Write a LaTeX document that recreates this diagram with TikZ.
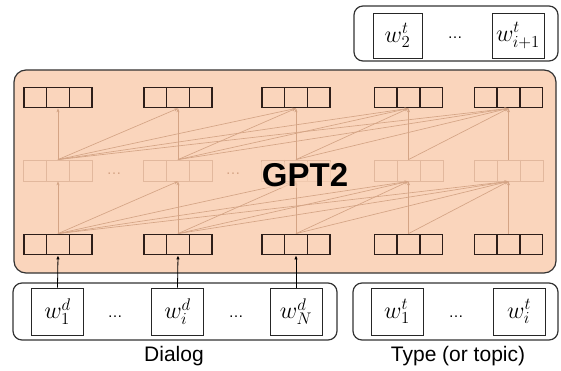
\RequirePackage{fix-cm}
\documentclass[tikz,border=0pt]{standalone}
\usepackage[no-math]{fontspec}
\setmainfont{Liberation Sans}
\usetikzlibrary{arrows.meta}
\definecolor{peach}{RGB}{250,213,188}
\definecolor{vecdark}{RGB}{45,30,25}
\definecolor{faint}{RGB}{212,164,133}
\definecolor{faintbox}{RGB}{226,184,157}
\newcommand{\mw}[1]{{\fontsize{24}{24}\selectfont$#1$}}
\tikzset{
  vec/.style={draw=vecdark, line width=1.8pt, minimum width=68pt, minimum height=20pt, inner sep=0pt,
    path picture={
      \draw[line width=1.8pt, draw=vecdark] ([xshift=-11.5pt]path picture bounding box.north) -- ([xshift=-11.5pt]path picture bounding box.south);
      \draw[line width=1.8pt, draw=vecdark] ([xshift=11.5pt]path picture bounding box.north) -- ([xshift=11.5pt]path picture bounding box.south);
    }},
  midvec/.style={draw=faintbox, line width=0.8pt, minimum width=69pt, minimum height=21pt, inner sep=0pt,
    path picture={
      \draw[line width=0.8pt, draw=faintbox] ([xshift=-11.5pt]path picture bounding box.north) -- ([xshift=-11.5pt]path picture bounding box.south);
      \draw[line width=0.8pt, draw=faintbox] ([xshift=11.5pt]path picture bounding box.north) -- ([xshift=11.5pt]path picture bounding box.south);
    }},
  conn/.style={draw=faint, line width=0.65pt, -{Stealth[length=4pt,width=3pt]}},
  inarrow/.style={draw=black, line width=0.8pt, -{Latex[length=4pt,width=3.5pt]}},
  ibox/.style={draw=black!80, line width=1.2pt, rounded corners=9pt, fill=white, inner sep=0pt},
  sq/.style={draw=black!85, line width=0.9pt, minimum height=47pt, inner sep=0pt, fill=white},
  dotsnode/.style={font=\fontsize{15}{15}\selectfont, anchor=base, inner sep=0pt},
  lbl/.style={font=\fontsize{21}{21}\selectfont, inner sep=0pt}
}
\begin{document}
\begin{tikzpicture}[x=1pt,y=-1pt]
\useasboundingbox (0,0) rectangle (561,371);
% GPT2 block
\node[draw=black!80, line width=1.2pt, rounded corners=12pt, fill=peach,
      minimum width=542pt, minimum height=203pt, inner sep=0pt] (gptbox) at (285,171.5) {};
% vectors
\foreach \i/\x in {1/58,2/178,3/296,4/408.5,5/508.5}{
  \node[vec] (t\i) at (\x,97.5) {};
  \node[midvec] (m\i) at (\x,170.5) {};
  \node[vec] (b\i) at (\x,244.5) {};
}
\node[dotsnode, text=faint] (md1) at (114,175) {\dots};
\node[dotsnode, text=faint] (md2) at (233,175) {\dots};
% connections
\foreach \i in {1,...,5}{
  \foreach \j in {\i,...,5}{
    \draw[conn] (b\i.north) -- (m\j.south);
    \draw[conn] (m\i.north) -- (t\j.south);
  }
}
\node[font=\bfseries\fontsize{33}{33}\selectfont, fill=peach, fill opacity=0.6,
      text opacity=1, inner sep=1pt] (gpt) at (305,175) {GPT2};
% output box
\node[ibox, minimum width=204pt, minimum height=55pt] (outbox) at (456,33.5) {};
\node[sq, minimum width=49pt, minimum height=45pt] (o1) at (397.5,35.5) {\mw{w^{t}_{2}}};
\node[sq, minimum width=52pt, minimum height=45pt] (o2) at (518,35.5) {\mw{w^{t}_{i+1}}};
\node[dotsnode] (od) at (455,39) {\dots};
% dialog box
\node[ibox, minimum width=324pt, minimum height=57pt] (dialog) at (175,311.5) {};
\node[sq, minimum width=52pt] (d1) at (57.5,311.5) {\mw{w^{d}_{1}}};
\node[sq, minimum width=52pt] (d2) at (177.5,311.5) {\mw{w^{d}_{i}}};
\node[sq, minimum width=52pt] (d3) at (296,311.5) {\mw{w^{d}_{N}}};
\node[dotsnode] (dd1) at (115,317) {\dots};
\node[dotsnode] (dd2) at (236,317) {\dots};
% type box
\node[ibox, minimum width=205pt, minimum height=57pt] (type) at (455.5,311.5) {};
\node[sq, minimum width=52pt] (ty1) at (397,311.5) {\mw{w^{t}_{1}}};
\node[sq, minimum width=52pt] (ty2) at (519,311.5) {\mw{w^{t}_{i}}};
\node[dotsnode] (td) at (456,317) {\dots};
% input arrows
\draw[inarrow] (d1.north) -- (b1.south);
\draw[inarrow] (d2.north) -- (b2.south);
\draw[inarrow] (d3.north) -- (b3.south);
% labels
\node[lbl] (dl) at (174,356) {Dialog};
\node[lbl] (tl) at (458,356) {Type (or topic)};
\end{tikzpicture}
\end{document}
